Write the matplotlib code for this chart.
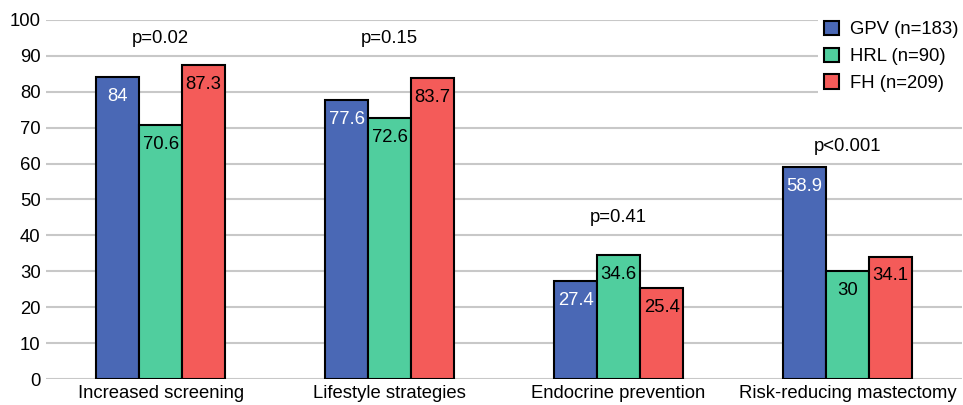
import numpy as np
import matplotlib
matplotlib.use('Agg')
from matplotlib import pyplot as plt

plt.rcParams['font.family'] = ['Liberation Sans', 'DejaVu Sans']

categories = ['Increased screening', 'Lifestyle strategies',
              'Endocrine prevention', 'Risk-reducing mastectomy']
series = ['GPV (n=183)', 'HRL (n=90)', 'FH (n=209)']
gpv = [84, 77.6, 27.4, 58.9]
hrl = [70.6, 72.6, 34.6, 30]
fh = [87.3, 83.7, 25.4, 34.1]
p_labels = ['p=0.02', 'p=0.15', 'p=0.41', 'p<0.001']
p_heights = [94.7, 94.7, 45, 64.7]

colors = ['#4A68B5', '#50CE9E', '#F45B59']
label_colors = ['white', 'black', 'black']
fs = 13.3

fig = plt.figure(figsize=(9.63, 4.05), dpi=100)
ax = fig.add_axes([0.048, 0.064, 0.951, 0.887])

x = np.arange(len(categories))
w = 0.188
for i, (vals, name) in enumerate(zip([gpv, hrl, fh], series)):
    xs = x + (i - 1) * w
    ax.bar(xs, vals, w, color=colors[i], edgecolor='black', linewidth=1.5,
           label=name, zorder=3)
    for xx, v in zip(xs, vals):
        ax.text(xx, v - 5.4, '%g' % v, ha='center', va='center',
                fontsize=fs, color=label_colors[i], zorder=4)

for xx, lab, h in zip(x, p_labels, p_heights):
    ax.text(xx, h, lab, ha='center', va='center', fontsize=fs)

ax.set_xlim(-0.5, 3.5)
ax.set_ylim(0, 100)
ax.set_yticks(range(0, 101, 10))
ax.set_xticks(x)
ax.set_xticklabels(categories)
ax.tick_params(axis='both', length=0, labelsize=fs, pad=4)
ax.yaxis.grid(True, color='#C8C8C8', linewidth=1.5, zorder=0)
ax.set_axisbelow(True)
for s in ax.spines.values():
    s.set_visible(False)

leg = ax.legend(loc='upper right', bbox_to_anchor=(1.012, 1.038), fontsize=fs,
                frameon=True, handlelength=0.8, handleheight=0.8,
                handletextpad=0.6, labelspacing=0.5, borderpad=0.3)
leg.get_frame().set_facecolor('white')
leg.get_frame().set_edgecolor('none')
leg.get_frame().set_alpha(1)
leg.set_zorder(5)

plt.savefig('out.png', dpi=100)
